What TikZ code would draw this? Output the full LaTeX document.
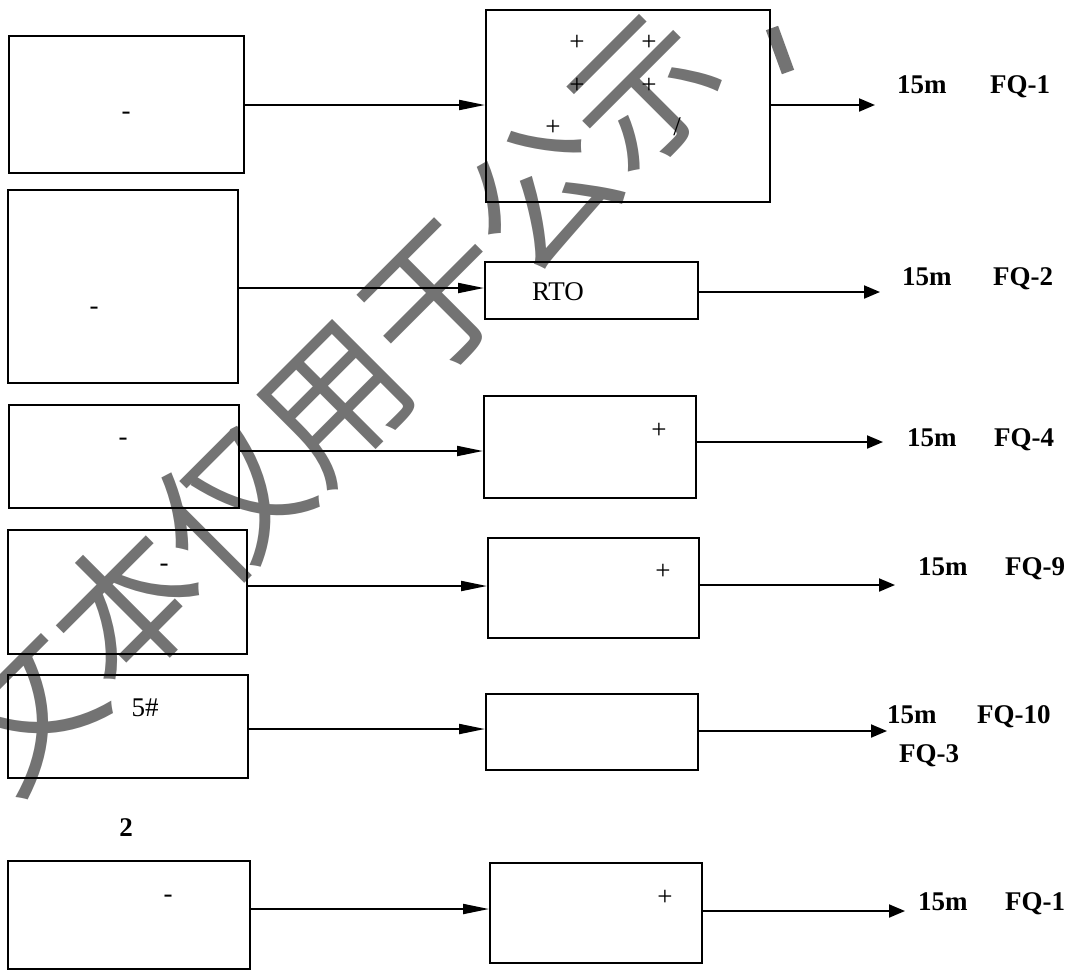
\documentclass[tikz,border=0pt]{standalone}
\usepackage{fontspec}
\setmainfont{Liberation Serif}
\newfontfamily\cjk{Noto Sans CJK SC}
\usetikzlibrary{arrows.meta}
\definecolor{wmgray}{RGB}{115,115,115}
\begin{document}
\begin{tikzpicture}[x=1pt,y=-1pt,
  box/.style={draw, line width=1.8pt, inner sep=0pt, anchor=north west},
  inarr/.style={line width=2pt, -{Triangle[length=26pt,width=10pt]}},
  outarr/.style={line width=2pt, -{Triangle[length=16pt,width=13pt]}},
  lbl/.style={font=\fontsize{27}{32}\selectfont\bfseries, anchor=base west, inner sep=0pt},
  sym/.style={font=\fontsize{27}{32}\selectfont, inner sep=0pt},
  symb/.style={font=\fontsize{27}{32}\selectfont, inner sep=0pt, anchor=base},
  wmark/.style={text=wmgray, font=\cjk\fontsize{146}{146}\selectfont, inner sep=0pt, rotate=45}]
\useasboundingbox (0,0) rectangle (1073,978);
% watermark
\node[wmark] (wm) at (333,400) {文本仅用于公示};
\draw[wmgray, line width=13pt] (772,28) -- (788,72);
% left boxes
\node[box, minimum width=235, minimum height=137] (L1) at (8,35) {};
\node[box, minimum width=230, minimum height=193] (L2) at (7,189) {};
\node[box, minimum width=230, minimum height=103] (L3) at (8,404) {};
\node[box, minimum width=239, minimum height=124] (L4) at (7,529) {};
\node[box, minimum width=240, minimum height=103] (L5) at (7,674) {};
\node[box, minimum width=242, minimum height=108] (L6) at (7,860) {};
% right boxes
\node[box, minimum width=284, minimum height=192] (R1) at (485,9) {};
\node[box, minimum width=213, minimum height=57] (R2) at (484,261) {};
\node[box, minimum width=212, minimum height=102] (R3) at (483,395) {};
\node[box, minimum width=211, minimum height=100] (R4) at (487,537) {};
\node[box, minimum width=212, minimum height=76] (R5) at (485,693) {};
\node[box, minimum width=212, minimum height=100] (R6) at (489,862) {};
% texts in left boxes
\node[symb] (d1) at (126,119) {-};
\node[symb] (d2) at (94,314) {-};
\node[symb] (d3) at (123,445) {-};
\node[symb] (d4) at (164,571) {-};
\node[symb] (n5) at (145,716) {5\#};
\node[symb] (d6) at (168,902) {-};
% texts in right boxes
\node[sym] (p1) at (577,43) {+};
\node[sym] (p2) at (649,43) {+};
\node[sym] (p3) at (577,86) {+};
\node[sym] (p4) at (649,86) {+};
\node[sym] (p5) at (553,128) {+};
\node[symb] (sl) at (677,135) {/};
\node[symb] (rto) at (558,300) {RTO};
\node[sym] (p6) at (659,431) {+};
\node[sym] (p7) at (663,572) {+};
\node[sym] (p8) at (665,898) {+};
% in arrows
\draw[inarr] (L1.east |- 0,105) -- (R1.west |- 0,105);
\draw[inarr] (L2.east |- 0,288) -- (R2.west |- 0,288);
\draw[inarr] (L3.east |- 0,451) -- (R3.west |- 0,451);
\draw[inarr] (L4.east |- 0,586) -- (R4.west |- 0,586);
\draw[inarr] (L5.east |- 0,729) -- (R5.west |- 0,729);
\draw[inarr] (L6.east |- 0,909) -- (R6.west |- 0,909);
% out arrows
\coordinate (t1) at (875,105);
\coordinate (t2) at (880,292);
\coordinate (t3) at (883,442);
\coordinate (t4) at (895,585);
\coordinate (t5) at (887,731);
\coordinate (t6) at (905,911);
\draw[outarr] (R1.east |- t1) -- (t1);
\draw[outarr] (R2.east |- t2) -- (t2);
\draw[outarr] (R3.east |- t3) -- (t3);
\draw[outarr] (R4.east |- t4) -- (t4);
\draw[outarr] (R5.east |- t5) -- (t5);
\draw[outarr] (R6.east |- t6) -- (t6);
% labels
\node[lbl] (m1) at (897,93) {15m};  \node[lbl] (f1) at (990,93) {FQ-1};
\node[lbl] (m2) at (902,285) {15m}; \node[lbl] (f2) at (993,285) {FQ-2};
\node[lbl] (m3) at (907,446) {15m}; \node[lbl] (f3) at (994,446) {FQ-4};
\node[lbl] (m4) at (918,575) {15m}; \node[lbl] (f4) at (1005,575) {FQ-9};
\node[lbl] (m5) at (887,723) {15m}; \node[lbl] (f5) at (977,723) {FQ-10};
\node[lbl] (f5b) at (899,762) {FQ-3};
\node[lbl] (m6) at (918,910) {15m}; \node[lbl] (f6) at (1005,910) {FQ-1};
\node[lbl, anchor=base] (two) at (126,836) {2};
\end{tikzpicture}
\end{document}
